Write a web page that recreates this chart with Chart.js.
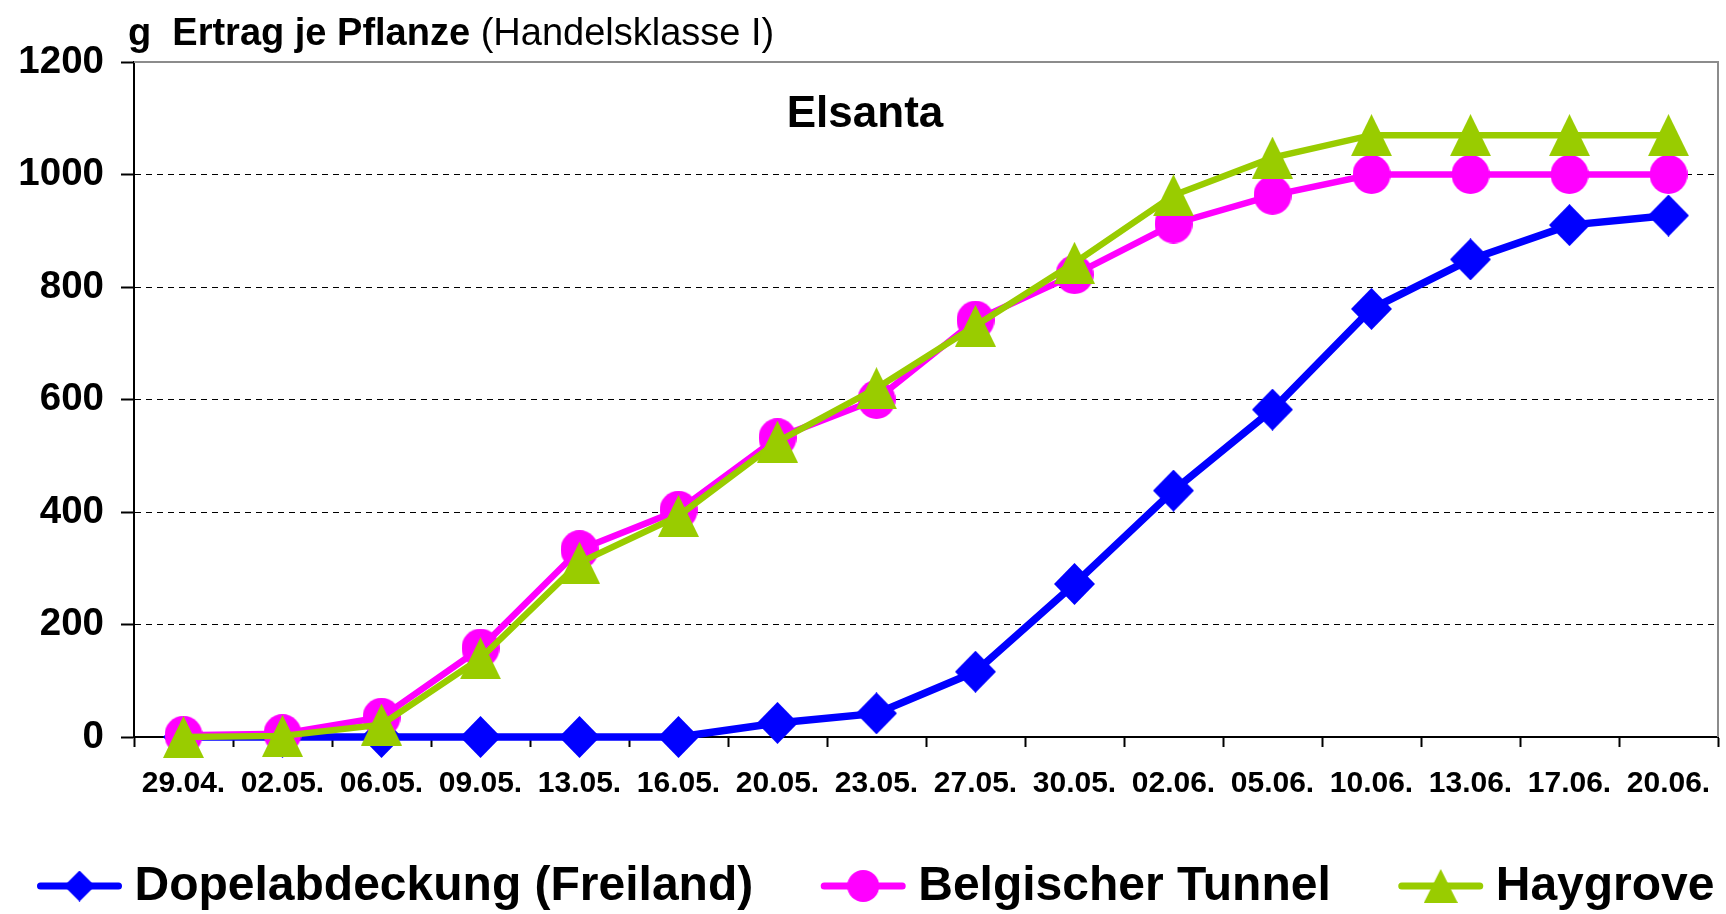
<!DOCTYPE html>
<html>
<head>
<meta charset="utf-8">
<title>Ertrag je Pflanze - Elsanta</title>
<script src="https://cdn.jsdelivr.net/npm/chart.js@4.4.0/dist/chart.umd.min.js"></script>
<style>
  html, body { margin: 0; padding: 0; background: #fff; }
  #wrap { width: 1726px; height: 914px; position: relative; }
</style>
</head>
<body>
<div id="wrap"><canvas id="myChart"></canvas></div>
<script>
// Ablesedaten
var dates = ['29.04.', '02.05.', '06.05.', '09.05.', '13.05.', '16.05.', '20.05.', '23.05.',
             '27.05.', '30.05.', '02.06.', '05.06.', '10.06.', '13.06.', '17.06.', '20.06.'];
var doppel   = [0, 0, 0, 0, 0, 0, 25, 42, 116, 272, 438, 582, 761, 849, 910, 927];
var tunnel   = [3, 6, 35, 158, 333, 403, 532, 600, 741, 822, 912, 963, 1000, 1000, 1000, 1000];
var haygrove = [0, 2, 22, 140, 310, 393, 525, 620, 731, 843, 963, 1030, 1070, 1070, 1070, 1070];
var yTicks   = [0, 200, 400, 600, 800, 1000, 1200];

var seriesNames = ['Dopelabdeckung (Freiland)', 'Belgischer Tunnel', 'Haygrove'];
var titleBold = 'g  Ertrag je Pflanze ';
var titleNormal = '(Handelsklasse I)';
var sorte = 'Elsanta';

var FONT = "'Liberation Sans', Arial, Helvetica, sans-serif";
Chart.defaults.font.family = FONT;
Chart.defaults.color = '#000';

function marker(style, w, h, color) {
  var c = document.createElement('canvas');
  c.width = w; c.height = h;
  var g = c.getContext('2d');
  g.fillStyle = color;
  g.beginPath();
  if (style === 'diamond') {
    g.moveTo(w / 2, 0); g.lineTo(w, h / 2); g.lineTo(w / 2, h); g.lineTo(0, h / 2);
  } else if (style === 'circle') {
    g.ellipse(w / 2, h / 2, w / 2, h / 2, 0, 0, Math.PI * 2);
  } else {
    g.moveTo(w / 2, 0); g.lineTo(w, h); g.lineTo(0, h);
  }
  g.closePath();
  g.fill();
  return c;
}

var blue = '#0000ff', pink = '#ff00ff', green = '#99cc00';

var ptDiamond = marker('diamond', 41, 42, blue);
var ptCircle = marker('circle', 38, 39, pink);
var ptTriangle = marker('triangle', 41, 42, green);

var legDiamond = marker('diamond', 31, 31, blue);
var legCircle = marker('circle', 32, 32, pink);
var legTriangle = marker('triangle', 34, 34, green);

var extras = {
  id: 'extras',
  beforeDatasetsDraw: function(chart) {
    var ctx = chart.ctx, a = chart.chartArea;
    ctx.save();
    ctx.strokeStyle = '#8c8c8c';
    ctx.lineWidth = 2;
    ctx.beginPath();
    ctx.moveTo(a.left, a.top);
    ctx.lineTo(a.right, a.top);
    ctx.lineTo(a.right, a.bottom);
    ctx.stroke();
    ctx.restore();
  },
  afterDraw: function(chart) {
    var ctx = chart.ctx, a = chart.chartArea;
    ctx.save();
    ctx.fillStyle = '#000';
    ctx.textBaseline = 'alphabetic';

    // Titel
    ctx.textAlign = 'left';
    ctx.font = 'bold 38px ' + FONT;
    ctx.fillText(titleBold, 128, 45);
    var tw = ctx.measureText(titleBold).width;
    ctx.font = '38px ' + FONT;
    ctx.fillText(titleNormal, 128 + tw, 45);

    // Sorte
    ctx.font = 'bold 44px ' + FONT;
    ctx.textAlign = 'center';
    ctx.fillText(sorte, a.left + a.width * 0.4615, 127);

    // Legende
    ctx.font = 'bold 48px ' + FONT;
    ctx.textAlign = 'left';
    ctx.textBaseline = 'middle';
    var lineLen = 84, gapText = 13, gapItem = 68;
    var ds = chart.data.datasets;
    var total = 0;
    for (var i = 0; i < ds.length; i++) {
      total += lineLen + gapText + ctx.measureText(ds[i].label).width;
      if (i < ds.length - 1) total += gapItem;
    }
    var x = 876 - total / 2;
    var y = 886;
    for (var j = 0; j < ds.length; j++) {
      ctx.strokeStyle = ds[j].borderColor;
      ctx.lineWidth = 7;
      ctx.lineCap = 'round';
      ctx.beginPath();
      ctx.moveTo(x + 3, y);
      ctx.lineTo(x + lineLen - 3, y);
      ctx.stroke();
      var img = ds[j].legendMarker;
      ctx.drawImage(img, x + lineLen / 2 - img.width / 2, y - img.height / 2);
      x += lineLen + gapText;
      ctx.fillText(ds[j].label, x, y + 1);
      x += ctx.measureText(ds[j].label).width + gapItem;
    }
    ctx.restore();
  }
};

var ctx1 = document.getElementById('myChart');

new Chart(ctx1, {
  type: 'line',
  data: {
    labels: dates,
    datasets: [{
      label: seriesNames[0],
      data: doppel,
      borderColor: blue,
      backgroundColor: blue,
      borderWidth: 7.5,
      pointStyle: ptDiamond,
      pointRadius: 20,
      legendMarker: legDiamond,
      order: 3
    }, {
      label: seriesNames[1],
      data: tunnel,
      borderColor: pink,
      backgroundColor: pink,
      borderWidth: 6.5,
      pointStyle: ptCircle,
      pointRadius: 19,
      legendMarker: legCircle,
      order: 2
    }, {
      label: seriesNames[2],
      data: haygrove,
      borderColor: green,
      backgroundColor: green,
      borderWidth: 6.5,
      pointStyle: ptTriangle,
      pointRadius: 20,
      legendMarker: legTriangle,
      order: 1
    }]
  },
  options: {
    responsive: true,
    maintainAspectRatio: false,
    animation: false,
    layout: {
      autoPadding: false,
      padding: { left: 0, right: 8, top: 62, bottom: 97 }
    },
    datasets: {
      line: { clip: false, tension: 0, fill: false }
    },
    plugins: {
      legend: { display: false },
      title: { display: false },
      tooltip: { enabled: false }
    },
    scales: {
      x: {
        type: 'category',
        offset: true,
        afterFit: function(scale) { scale.height = 80; },
        grid: {
          offset: true,
          drawOnChartArea: false,
          drawTicks: true,
          tickLength: 10,
          tickWidth: 2,
          tickColor: '#000'
        },
        border: { display: true, color: '#000', width: 2 },
        ticks: {
          font: { size: 30, weight: 'bold', lineHeight: 2.42 },
          color: '#000',
          padding: 0,
          maxRotation: 0,
          autoSkip: false
        }
      },
      y: {
        min: 0,
        max: 1200,
        afterFit: function(scale) { scale.width = 134; },
        afterBuildTicks: function(scale) {
          scale.ticks = yTicks.map(function(v) { return { value: v }; });
        },
        grid: {
          color: function(c) {
            if (!c.tick) return '#000';
            return (c.tick.value === 0 || c.tick.value === 1200) ? 'rgba(0,0,0,0)' : '#000';
          },
          lineWidth: 1,
          tickLength: 13,
          tickWidth: 2,
          tickColor: '#000'
        },
        border: { display: true, color: '#000', width: 2, dash: [6, 5] },
        ticks: {
          font: { size: 38.5, weight: 'bold' },
          color: '#000',
          padding: 17,
          callback: function(v) { return String(v); }
        }
      }
    }
  },
  plugins: [extras]
});
</script>
</body>
</html>
